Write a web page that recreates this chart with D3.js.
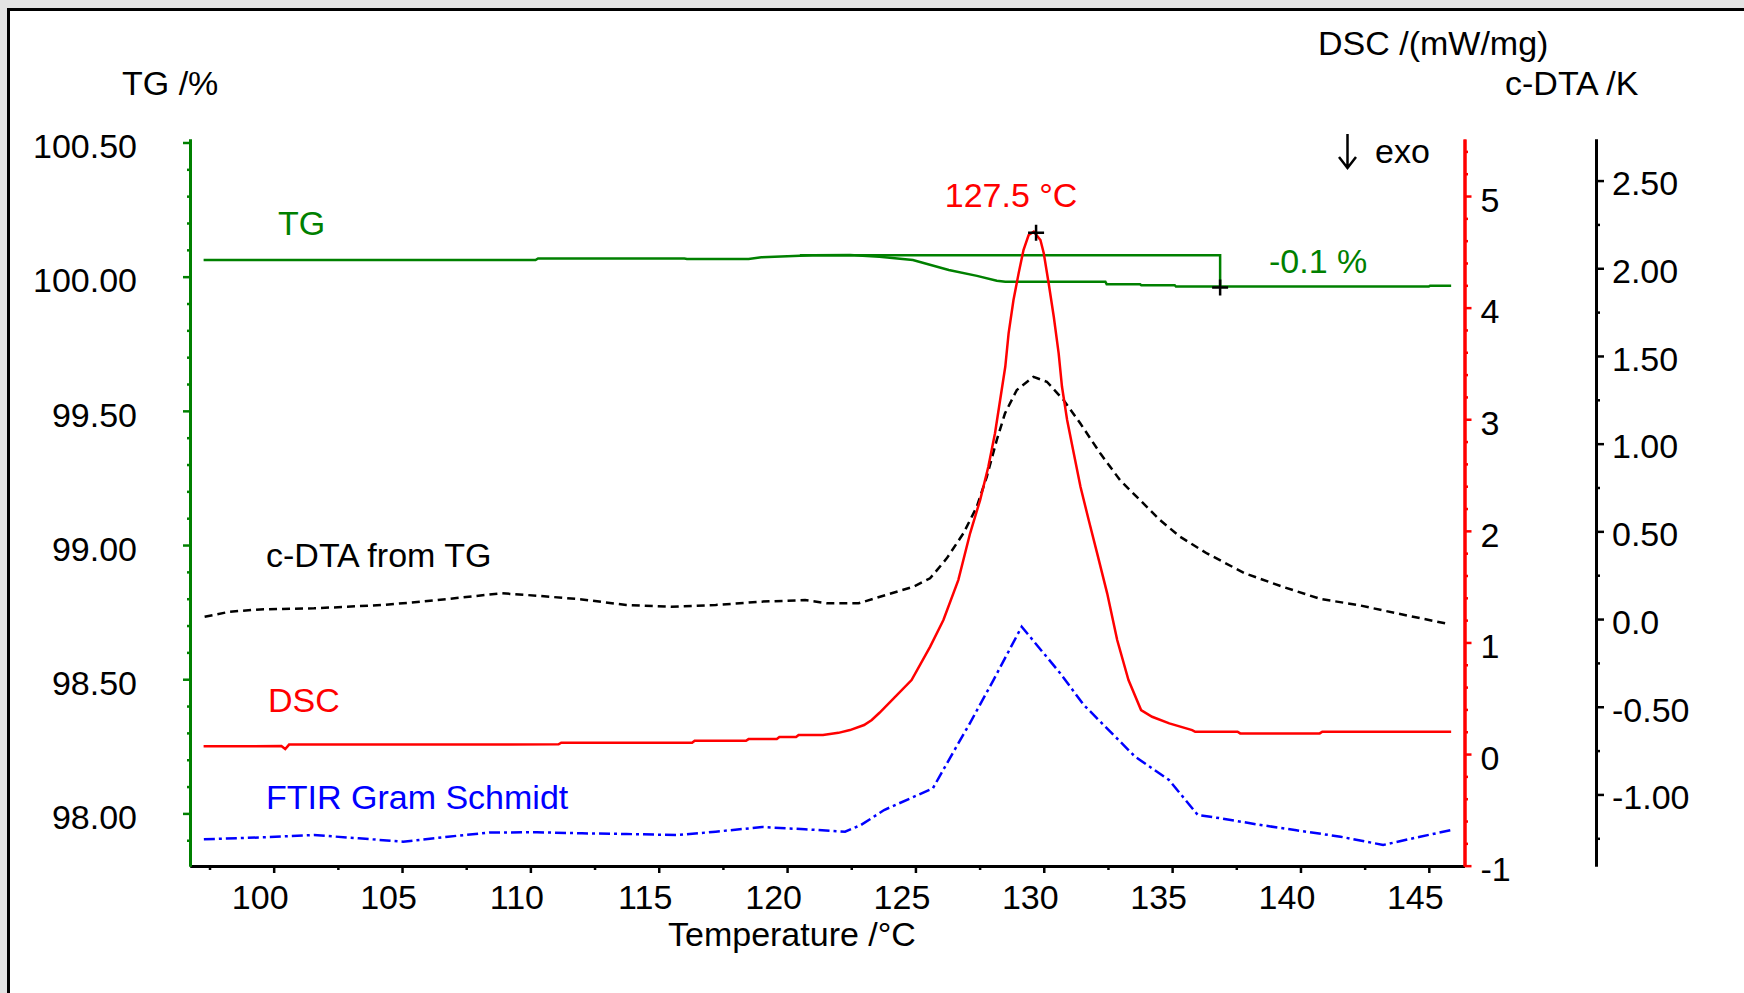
<!DOCTYPE html>
<html><head><meta charset="utf-8">
<script src="https://cdn.jsdelivr.net/npm/d3@7/dist/d3.min.js"></script>
<style>
html,body{margin:0;padding:0;background:#e3e3e3;overflow:hidden;}
svg{display:block;}
text{font-family:"Liberation Sans",Arial,sans-serif;}
</style></head><body>
<svg id="chart" width="1744" height="993"></svg>
<script>
// ---------------- DATA ----------------
const xTickValues = [100,105,110,115,120,125,130,135,140,145];
const tgTickValues = [98.0,98.5,99.0,99.5,100.0,100.5];
const dscTickValues = [-1,0,1,2,3,4,5];
const dtaTickValues = [-1.0,-0.5,0.0,0.5,1.0,1.5,2.0,2.5];

const tgTemp = [97.27,110.2,110.3,116.0,116.1,118.5,119.0,120.5,121.0,122.45,123.6,124.9,126.3,127.4,128.17,128.5,132.4,132.45,133.75,133.8,135.1,135.15,145.0,145.05,145.87];
const tgValue = [100.062,100.062,100.068,100.068,100.066,100.066,100.072,100.078,100.080,100.081,100.074,100.062,100.025,100.003,99.985,99.981,99.981,99.972,99.972,99.968,99.968,99.963,99.963,99.966,99.966];

const dscTemp = [97.27,100.3,100.45,100.6,111.1,111.2,116.3,116.4,118.4,118.5,119.6,119.7,120.35,120.45,121.4,122.0,122.45,123.0,123.3,123.6,124.2,124.85,125.57,126.09,126.67,127.13,127.52,127.84,128.10,128.30,128.50,128.63,128.82,129.02,129.21,129.41,129.61,129.87,130.0,130.19,130.39,130.58,130.71,130.91,131.17,131.43,131.75,132.08,132.47,132.86,133.3,133.79,134.22,134.89,135.78,135.9,137.55,137.65,140.75,140.85,145.87];
const dscValue = [0.069,0.072,0.045,0.085,0.087,0.101,0.101,0.119,0.119,0.134,0.134,0.152,0.152,0.170,0.170,0.19,0.215,0.26,0.305,0.370,0.51,0.663,0.961,1.201,1.559,1.978,2.276,2.574,2.874,3.172,3.470,3.770,4.068,4.307,4.516,4.651,4.680,4.606,4.487,4.218,3.918,3.591,3.291,2.993,2.694,2.395,2.097,1.798,1.440,1.022,0.663,0.394,0.334,0.275,0.215,0.200,0.200,0.185,0.185,0.200,0.200];

const dtaTemp = [97.31,98.29,99.47,101.57,104.25,105.74,107.22,108.86,110.26,112.01,113.73,115.48,117.22,118.95,120.70,121.56,122.79,123.62,124.92,125.57,126.22,126.87,127.39,127.78,128.17,128.49,128.95,129.60,130.12,130.77,131.42,132.20,132.97,133.75,134.53,135.31,136.36,137.83,139.31,140.79,142.25,143.73,145.79];
const dtaValue = [0.013,0.042,0.055,0.061,0.080,0.099,0.121,0.147,0.133,0.112,0.080,0.070,0.080,0.099,0.108,0.090,0.090,0.127,0.184,0.232,0.346,0.489,0.640,0.811,1.021,1.173,1.306,1.381,1.353,1.249,1.116,0.945,0.792,0.678,0.564,0.469,0.374,0.261,0.184,0.114,0.080,0.033,-0.029];

const ftirTemp = [97.28,99.63,101.57,103.31,105.04,106.79,108.43,110.26,112.01,113.74,115.72,117.22,119.03,120.70,122.26,122.88,123.78,125.68,126.45,127.12,128.04,129.14,130.64,131.56,133.56,134.88,136.00,136.89,138.45,139.78,141.56,142.89,143.22,144.66,145.89];
const ftirValue = [0.367,0.395,0.426,0.381,0.334,0.403,0.461,0.464,0.450,0.440,0.426,0.472,0.536,0.505,0.472,0.564,0.770,1.069,1.550,1.963,2.558,3.292,2.651,2.215,1.503,1.183,0.702,0.656,0.564,0.495,0.403,0.312,0.289,0.403,0.495];

const stepTemp = [120.5, 136.87];
const stepLevels = [100.080, 99.963];
const stepLabel = "-0.1 %";
const peakTemp = 129.7, peakDsc = 4.67;
const peakLabel = "127.5 °C";

// ---------------- SETUP ----------------
const svg = d3.select("#chart");
const FS = 34;
const plotTop = 139, plotBottom = 866, plotLeft = 190, plotRight = 1464.5, dtaAxisX = 1596;

svg.append("rect").attr("x",8.5).attr("y",9.5).attr("width",1760).attr("height",1000)
  .attr("fill","#fff").attr("stroke","#000").attr("stroke-width",3);

const x = d3.scaleLinear().domain([96.74,146.39]).range([plotLeft,plotRight]);
const yTG = d3.scaleLinear().domain([97.804,100.513]).range([plotBottom,plotTop]);
const yDSC = d3.scaleLinear().domain([-1.003,5.511]).range([plotBottom,plotTop]);
const yDTA = d3.scaleLinear().domain([-1.408,2.737]).range([plotBottom,plotTop]);
const yFTIR = d3.scaleLinear().domain([0,10]).range([plotBottom,plotTop]);

function range(a,b,s){const r=[];for(let v=a;v<=b+1e-9;v+=s)r.push(+v.toFixed(4));return r;}
function styleAxis(g,color,w){
  g.selectAll(".domain").attr("stroke",color).attr("stroke-width",w);
  g.selectAll(".tick line").attr("stroke",color).attr("stroke-width",2.5);
  g.selectAll(".tick text").attr("fill","#000").style("font-size",FS+"px").style("font-family",'"Liberation Sans",Arial,sans-serif');
}

// X axis
const xMinor = range(97.5,145,2.5).filter(v=>xTickValues.indexOf(v)<0);
const gxm = svg.append("g").attr("transform",`translate(0,${plotBottom})`)
  .call(d3.axisBottom(x).tickValues(xMinor).tickSize(4).tickSizeOuter(0).tickFormat(""));
styleAxis(gxm,"#000",3);
const gx = svg.append("g").attr("transform",`translate(0,${plotBottom})`)
  .call(d3.axisBottom(x).tickValues(xTickValues).tickSize(7).tickSizeOuter(0).tickPadding(12).tickFormat(d=>String(d)));
styleAxis(gx,"#000",3);
gx.selectAll(".tick text").attr("x",-14);

// TG axis (left, green)
const tgMinor = range(97.9,100.5,0.1).filter(v=>!tgTickValues.some(t=>Math.abs(t-v)<1e-6));
const gtm = svg.append("g").attr("transform",`translate(${plotLeft},0)`)
  .call(d3.axisLeft(yTG).tickValues(tgMinor).tickSize(3).tickSizeOuter(0).tickFormat(""));
styleAxis(gtm,"#008000",3);
const gt = svg.append("g").attr("transform",`translate(${plotLeft},0)`)
  .call(d3.axisLeft(yTG).tickValues(tgTickValues).tickSize(7).tickSizeOuter(0).tickPadding(46).tickFormat(d=>d.toFixed(2)));
styleAxis(gt,"#008000",3);
gt.selectAll(".tick text").attr("dy","0.45em");

// DSC axis (right, red)
const dscMinor = range(-0.8,5.4,0.2).filter(v=>!dscTickValues.some(t=>Math.abs(t-v)<1e-6));
const gdm = svg.append("g").attr("transform",`translate(${plotRight},0)`)
  .call(d3.axisRight(yDSC).tickValues(dscMinor).tickSize(3.5).tickSizeOuter(0).tickFormat(""));
styleAxis(gdm,"#ff0000",3);
const gd = svg.append("g").attr("transform",`translate(${plotRight},0)`)
  .call(d3.axisRight(yDSC).tickValues(dscTickValues).tickSize(7).tickSizeOuter(0).tickPadding(9).tickFormat(d=>String(d)));
styleAxis(gd,"#ff0000",3);
gd.selectAll(".tick text").attr("dy","0.45em");

// c-DTA axis (far right, black)
const dtaMinor = range(-1.25,2.25,0.5);
const gcm = svg.append("g").attr("transform",`translate(${dtaAxisX},0)`)
  .call(d3.axisRight(yDTA).tickValues(dtaMinor).tickSize(4).tickSizeOuter(0).tickFormat(""));
styleAxis(gcm,"#000",3);
const gc = svg.append("g").attr("transform",`translate(${dtaAxisX},0)`)
  .call(d3.axisRight(yDTA).tickValues(dtaTickValues).tickSize(8).tickSizeOuter(0).tickPadding(8).tickFormat(d=>d===0?"0.0":d.toFixed(2)));
styleAxis(gc,"#000",3);
gc.selectAll(".tick text").attr("dy","0.42em");

// ---------------- CURVES ----------------
function series(ts,vs){return ts.map((t,i)=>[t,vs[i]]);}
const plot = svg.append("g");
plot.append("path").datum(series(ftirTemp,ftirValue))
  .attr("d",d3.line().x(d=>x(d[0])).y(d=>yFTIR(d[1])))
  .attr("fill","none").attr("stroke","#0000ff").attr("stroke-width",2.5).attr("stroke-dasharray","11,4,3,4");
plot.append("path").datum(series(dtaTemp,dtaValue))
  .attr("d",d3.line().x(d=>x(d[0])).y(d=>yDTA(d[1])))
  .attr("fill","none").attr("stroke","#000").attr("stroke-width",2.5).attr("stroke-dasharray","8,5");
plot.append("path").datum(series(tgTemp,tgValue))
  .attr("d",d3.line().x(d=>x(d[0])).y(d=>yTG(d[1])))
  .attr("fill","none").attr("stroke","#008000").attr("stroke-width",2.5);
// step annotation
plot.append("path").datum([[stepTemp[0],stepLevels[0]],[stepTemp[1],stepLevels[0]],[stepTemp[1],stepLevels[1]]])
  .attr("d",d3.line().x(d=>x(d[0])).y(d=>yTG(d[1])))
  .attr("fill","none").attr("stroke","#008000").attr("stroke-width",2.5);
plot.append("path").datum(series(dscTemp,dscValue))
  .attr("d",d3.line().x(d=>x(d[0])).y(d=>yDSC(d[1])))
  .attr("fill","none").attr("stroke","#ff0000").attr("stroke-width",2.5);

// markers
const cross = "M-8,0H8M0,-8V8";
plot.append("path").attr("d",cross).attr("transform",`translate(${x(peakTemp)},${yDSC(peakDsc)})`)
  .attr("stroke","#000").attr("stroke-width",2.5);
plot.append("path").attr("d",cross).attr("transform",`translate(${x(stepTemp[1])},${yTG(stepLevels[1])+1})`)
  .attr("stroke","#000").attr("stroke-width",2.5);

// exo arrow
svg.append("path").attr("d","M1347.5,134V168M1339,157L1347.5,168L1356,157")
  .attr("fill","none").attr("stroke","#000").attr("stroke-width",2.5);

// ---------------- TEXT ----------------
function label(t,xx,yy,color,anchor){
  svg.append("text").attr("x",xx).attr("y",yy).attr("fill",color||"#000")
    .attr("text-anchor",anchor||"start").style("font-size",FS+"px").text(t);
}
label("TG /%",122,95);
label("DSC /(mW/mg)",1318,55);
label("c-DTA /K",1505,95);
label("exo",1375,163);
label("Temperature /°C",668,946);
label("TG",278,235,"#008000");
label("c-DTA from TG",266,567);
label("DSC",268,712,"#ff0000");
label("FTIR Gram Schmidt",266,809,"#0000ff");
label(peakLabel,x(peakTemp)-25,207,"#ff0000","middle");
label(stepLabel,1269,273,"#008000");
</script>
</body></html>
